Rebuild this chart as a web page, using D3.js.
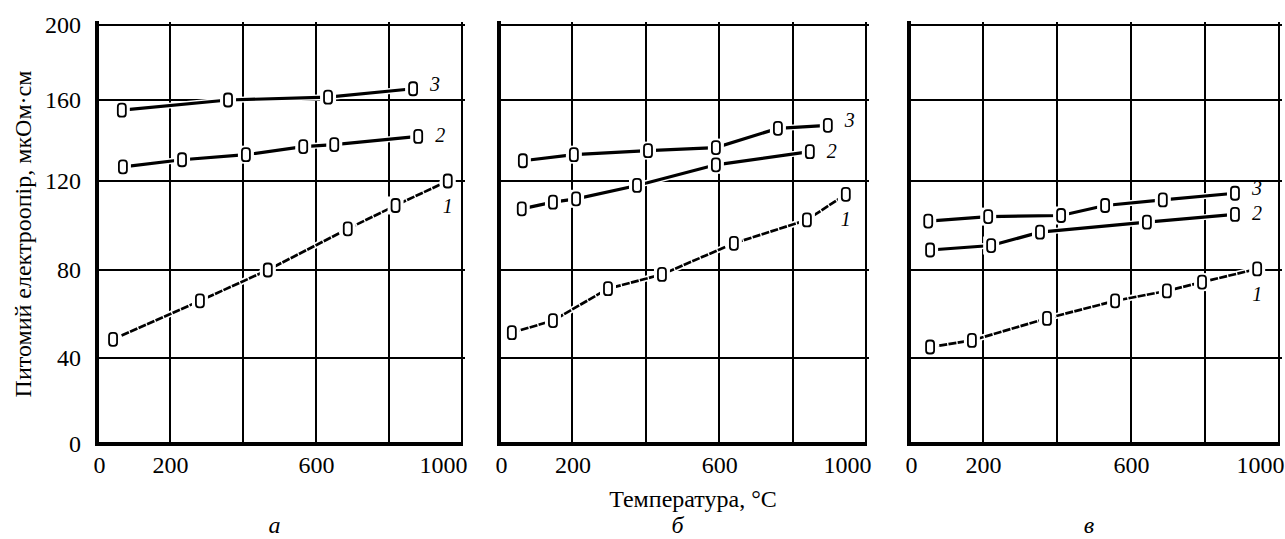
<!DOCTYPE html>
<html>
<head>
<meta charset="utf-8">
<script src="https://cdn.jsdelivr.net/npm/d3@7"></script>
<style>
  body { margin: 0; background: #fff; }
  svg text { font-family: "Liberation Serif", "Times New Roman", serif; fill: #000; }
</style>
</head>
<body>
<div id="container"></div>
<script>
// tick values
var xTicks = [0, 200, 600, 1000];
var xGrid = [200, 400, 600, 800];
var yTicks = [0, 40, 80, 120, 160, 200];
var yGrid = [40, 80, 120, 160];
var panelNames = ["а", "б", "в"];
var seriesNames = ["1", "2", "3"];

// panel a
var tempA1 = [44, 282, 468, 687, 818, 961];
var resA1 = [48.5, 66, 80, 98.5, 109, 120];
var tempA2 = [71, 233, 408, 565, 650, 880];
var resA2 = [127, 130.5, 133, 137, 138, 142];
var tempA3 = [68, 359, 633, 866];
var resA3 = [155, 160, 161.5, 166];

// panel b
var tempB1 = [35, 147, 297, 444, 640, 839, 945];
var resB1 = [51.5, 57, 71.5, 78, 92, 102.5, 114];
var tempB2 = [62, 147, 210, 376, 591, 847];
var resB2 = [107.5, 110.5, 112, 118, 128, 134.5];
var tempB3 = [65, 204, 406, 591, 760, 896];
var resB3 = [130, 133, 135, 136.5, 146, 147.5];

// panel c
var tempC1 = [57, 170, 373, 557, 697, 792, 941];
var resC1 = [45, 48, 58, 66, 70.5, 74.5, 80.5];
var tempC2 = [57, 222, 354, 643, 881];
var resC2 = [89, 91, 97, 101.5, 105];
var tempC3 = [52, 214, 411, 530, 686, 881];
var resC3 = [102, 104, 104.5, 109, 111.5, 114.5];

function zip(t, r) {
	return t.map(function(d, i) { return {t: d, r: r[i]}; });
}

var panels = [
	[zip(tempA1, resA1), zip(tempA2, resA2), zip(tempA3, resA3)],
	[zip(tempB1, resB1), zip(tempB2, resB2), zip(tempB3, resB3)],
	[zip(tempC1, resC1), zip(tempC2, resC2), zip(tempC3, resC3)]
];

// layout
var W = 1285, H = 539;
var lefts = [97, 499, 909],
	widths = [365, 367, 370];
var fontSize = 24;

var svg = d3.select("#container").append("svg")
	.attr("width", W)
	.attr("height", H);

// the scanned grid is a little uneven, so y goes through each gridline
var yScale = d3.scaleLinear()
	.domain(yTicks)
	.range([444, 358, 270, 181, 100, 25]);

var y0 = yScale(0), yTop = yScale(200);

var line = d3.line()
	.x(function(d) { return d.x; })
	.y(function(d) { return d.y; });

panels.forEach(function(series, p) {
	var xScale = d3.scaleLinear()
		.domain([0, 1000])
		.range([lefts[p], lefts[p] + widths[p]]);
	var x1 = xScale(1000);

	var g = svg.append("g");

	// grid
	g.selectAll(".vgrid")
		.data(xGrid)
		.enter().append("line")
			.attr("x1", function(d) { return Math.round(xScale(d)); })
			.attr("x2", function(d) { return Math.round(xScale(d)); })
			.attr("y1", yTop - 3)
			.attr("y2", y0)
			.attr("stroke", "#000")
			.attr("stroke-width", 2)
			.attr("shape-rendering", "crispEdges");

	g.selectAll(".hgrid")
		.data(yGrid)
		.enter().append("line")
			.attr("x1", lefts[p])
			.attr("x2", x1 + 3)
			.attr("y1", function(d) { return Math.round(yScale(d)); })
			.attr("y2", function(d) { return Math.round(yScale(d)); })
			.attr("stroke", "#000")
			.attr("stroke-width", 2)
			.attr("shape-rendering", "crispEdges");

	// frame: top and right thin, left and bottom thick
	g.append("line").attr("x1", lefts[p]).attr("x2", x1 + 3).attr("y1", yTop).attr("y2", yTop)
		.attr("stroke", "#000").attr("stroke-width", 2).attr("shape-rendering", "crispEdges");
	g.append("line").attr("x1", x1).attr("x2", x1).attr("y1", yTop - 3).attr("y2", y0)
		.attr("stroke", "#000").attr("stroke-width", 2).attr("shape-rendering", "crispEdges");
	g.append("line").attr("x1", lefts[p]).attr("x2", lefts[p]).attr("y1", yTop - 4).attr("y2", y0 + 2)
		.attr("stroke", "#000").attr("stroke-width", 4);
	g.append("line").attr("x1", lefts[p] - 2).attr("x2", x1 + 1).attr("y1", y0).attr("y2", y0)
		.attr("stroke", "#000").attr("stroke-width", 4);

	// curves
	series.forEach(function(data, s) {
		var pts = data.map(function(d) { return {x: xScale(d.t), y: yScale(d.r)}; });

		g.append("path")
			.attr("d", line(pts))
			.attr("fill", "none")
			.attr("stroke", "#fff")
			.attr("stroke-width", 6);

		g.append("path")
			.attr("d", line(pts))
			.attr("fill", "none")
			.attr("stroke", "#000")
			.attr("stroke-width", s === 0 ? 2.7 : 3.2)
			.attr("stroke-dasharray", s === 0 ? "8,1.3" : null);

		// white gap round each marker
		g.selectAll(".halo" + s)
			.data(pts)
			.enter().append("rect")
				.attr("x", function(d) { return d.x - 8; })
				.attr("y", function(d) { return d.y - 9; })
				.attr("width", 16)
				.attr("height", 18)
				.attr("fill", "#fff");

		g.selectAll(".mark" + s)
			.data(pts)
			.enter().append("rect")
				.attr("x", function(d) { return d.x - 4; })
				.attr("y", function(d) { return d.y - 6.5; })
				.attr("width", 8)
				.attr("height", 13)
				.attr("rx", 3)
				.attr("fill", "#fff")
				.attr("stroke", "#000")
				.attr("stroke-width", 1.8);

		// curve number next to its last point
		var last = pts[pts.length - 1];
		g.append("text")
			.attr("x", s === 0 ? last.x : last.x + 22)
			.attr("y", s === 0 ? last.y + 25 : (s === 2 ? last.y - 5 : last.y - 1))
			.attr("dy", "0.35em")
			.attr("text-anchor", "middle")
			.style("font-size", "20px")
			.style("font-style", "italic")
			.text(seriesNames[s]);
	});

	// x tick labels
	var xAxis = g.append("g")
		.attr("transform", "translate(0," + y0 + ")")
		.call(d3.axisBottom(xScale).tickValues(xTicks).tickFormat(d3.format("d"))
			.tickSize(0).tickPadding(12));
	xAxis.select(".domain").remove();
	xAxis.selectAll("text")
		.style("font-size", fontSize + "px")
		.style("font-family", "Liberation Serif")
		.attr("text-anchor", function(d) { return d === 1000 ? "end" : "middle"; })
		.attr("x", function(d) { return d === 1000 ? 5 : (d === 0 ? 2 : 0); });

	// panel letter
	g.append("text")
		.attr("x", lefts[p] + widths[p] / 2 - 5)
		.attr("y", 533)
		.attr("text-anchor", "middle")
		.style("font-size", fontSize + "px")
		.style("font-style", "italic")
		.text(panelNames[p]);
});

// y tick labels, first panel only
var yAxis = svg.append("g")
	.attr("transform", "translate(" + lefts[0] + ",0)")
	.call(d3.axisLeft(yScale).tickValues(yTicks).tickSize(0).tickPadding(16));
yAxis.select(".domain").remove();
yAxis.selectAll("text")
	.style("font-size", fontSize + "px")
	.style("font-family", "Liberation Serif");

// axis titles
svg.append("text")
	.attr("transform", "translate(31,234) rotate(-90)")
	.attr("text-anchor", "middle")
	.style("font-size", fontSize + "px")
	.text("Питомий електроопір, мкОм·см");

svg.append("text")
	.attr("x", 693)
	.attr("y", 507)
	.attr("text-anchor", "middle")
	.style("font-size", fontSize + "px")
	.text("Температура, °C");
</script>
</body>
</html>
